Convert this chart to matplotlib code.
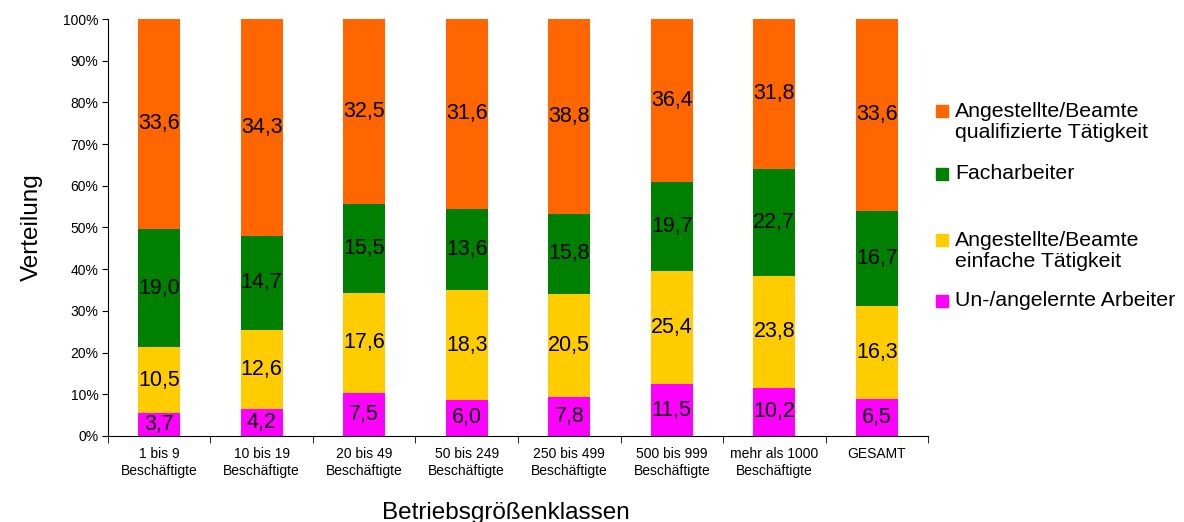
import matplotlib
matplotlib.use("Agg")
import matplotlib.pyplot as plt
import numpy as np
from matplotlib.patches import Rectangle

categories = ["1 bis 9\nBeschäftigte", "10 bis 19\nBeschäftigte", "20 bis 49\nBeschäftigte",
              "50 bis 249\nBeschäftigte", "250 bis 499\nBeschäftigte", "500 bis 999\nBeschäftigte",
              "mehr als 1000\nBeschäftigte", "GESAMT"]

ungelernt = [3.7, 4.2, 7.5, 6.0, 7.8, 11.5, 10.2, 6.5]
einfach = [10.5, 12.6, 17.6, 18.3, 20.5, 25.4, 23.8, 16.3]
facharbeiter = [19.0, 14.7, 15.5, 13.6, 15.8, 19.7, 22.7, 16.7]
qualifiziert = [33.6, 34.3, 32.5, 31.6, 38.8, 36.4, 31.8, 33.6]

series_names = ["Un-/angelernte Arbeiter", "Angestellte/Beamte\neinfache Tätigkeit",
                "Facharbeiter", "Angestellte/Beamte\nqualifizierte Tätigkeit"]
colors = ["#FF00FF", "#FFCC00", "#008000", "#FF6600"]

plt.rcParams['font.family'] = ['Liberation Sans', 'DejaVu Sans']

series = np.array([ungelernt, einfach, facharbeiter, qualifiziert])
totals = series.sum(axis=0)
shares = series / totals * 100

fig = plt.figure(figsize=(11.84, 5.22), dpi=100)
ax = fig.add_axes([0.0912, 0.1648, 0.6926, 0.7988])

x = np.arange(len(categories))
bottom = np.zeros(len(categories))
for vals, share, col in zip(series, shares, colors):
    ax.bar(x, share, bottom=bottom, width=0.41, color=col, edgecolor='none')
    for xi, b, s, v in zip(x, bottom, share, vals):
        ax.text(xi, b + s / 2, f"{v:.1f}".replace('.', ','), ha='center', va='center',
                fontsize=15.5, color='black')
    bottom += share

ax.set_xlim(-0.5, len(categories) - 0.5)
ax.set_ylim(0, 100)
ax.set_yticks(np.arange(0, 101, 10))
ax.set_yticklabels([f"{v}%" for v in range(0, 101, 10)], fontsize=10)
ax.set_xticks(x)
ax.set_xticklabels(categories, fontsize=10, linespacing=1.3)
ax.set_xticks(np.arange(-0.5, len(categories)), minor=True)
ax.tick_params(axis='x', which='major', length=0, pad=8)
ax.tick_params(axis='x', which='minor', length=5, direction='out')
ax.tick_params(axis='y', length=4, direction='out', pad=3)
for side in ('top', 'right'):
    ax.spines[side].set_visible(False)
for side in ('left', 'bottom'):
    ax.spines[side].set_linewidth(0.8)

ax.set_ylabel("Verteilung", fontsize=17.5, labelpad=14)
fig.text(0.427, 0.018, "Betriebsgrößenklassen", fontsize=17.5, ha='center', va='center')

# legend drawn as swatches with text
legend_items = [
    (series_names[3], colors[3], 122),
    (series_names[2], colors[2], 174),
    (series_names[1], colors[1], 251),
    (series_names[0], colors[0], 301),
]
W, H = 1184, 522
for label, col, ypx in legend_items:
    first_line_y = ypx - 11 if '\n' in label else ypx
    fig.patches.append(Rectangle((936 / W, 1 - (first_line_y + 6) / H), 12 / W, 12 / H,
                                 transform=fig.transFigure, color=col))
    fig.text(955 / W, 1 - ypx / H, label, fontsize=15.3, va='center', ha='left',
             linespacing=1.1)

fig.savefig("out.png", dpi=100)
